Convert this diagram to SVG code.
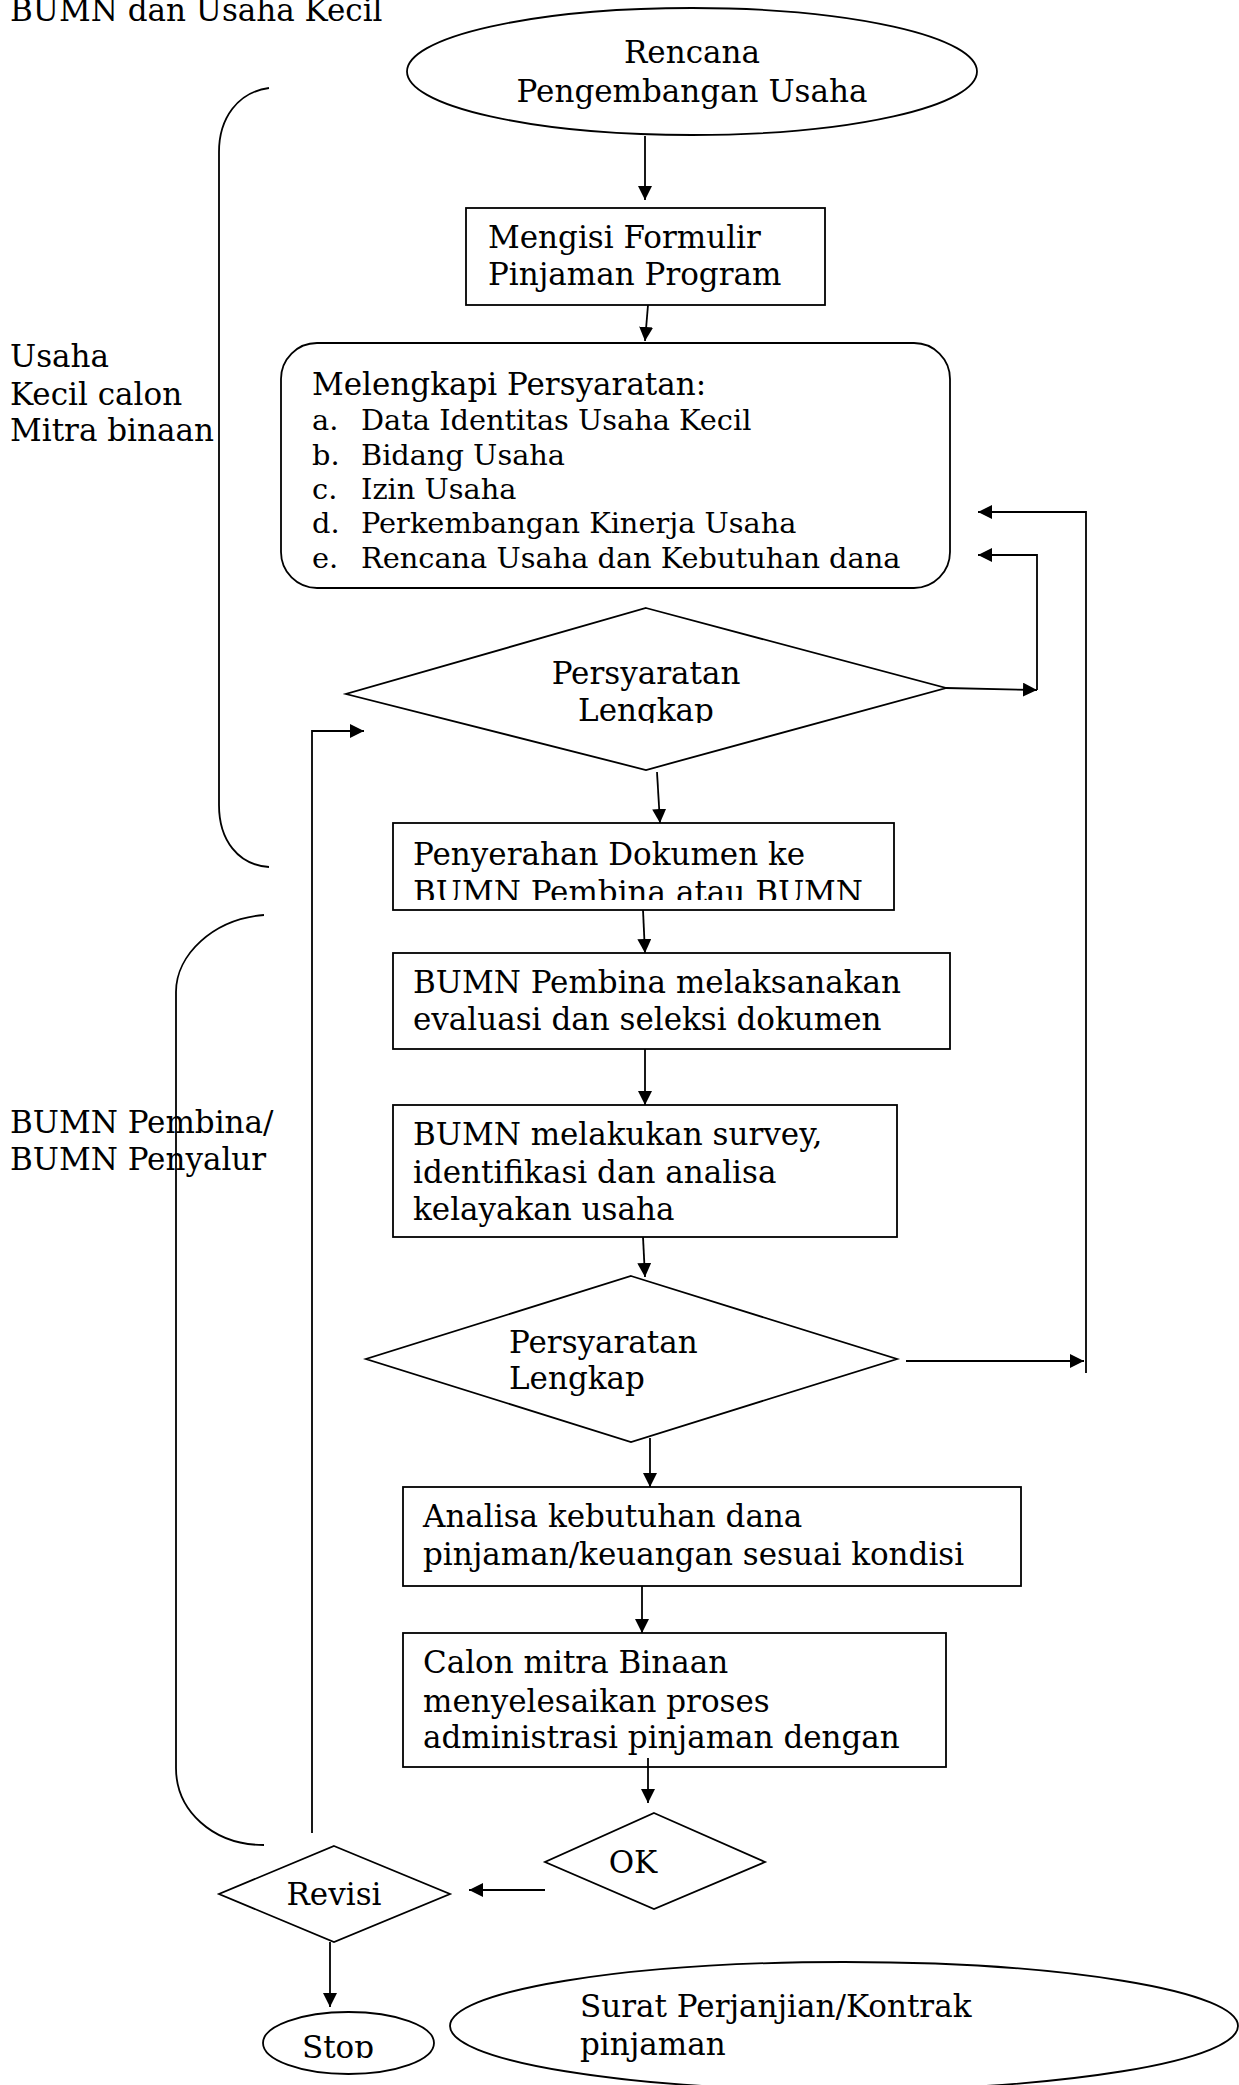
<svg xmlns="http://www.w3.org/2000/svg" width="1239" height="2085" viewBox="0 0 1239 2085">
<style>
  .s{fill:none;stroke:#000;stroke-width:1.8}
  .n{fill:#fff;stroke:#000;stroke-width:1.8}
  text{font-family:"DejaVu Serif","Liberation Serif",serif;font-size:31px;fill:#000}
  .li{font-size:28.8px}
</style>
<defs>
  <marker id="ah" markerUnits="userSpaceOnUse" markerWidth="15" markerHeight="15" refX="14" refY="7" orient="auto">
    <path d="M0,0 L14,7 L0,14 z" fill="#000"/>
  </marker>
  <clipPath id="c1"><rect x="0" y="0" width="1239" height="723"/></clipPath>
  <clipPath id="c2"><rect x="0" y="0" width="1239" height="900"/></clipPath>
  <clipPath id="c3"><rect x="0" y="0" width="1239" height="2058"/></clipPath>
</defs>
<rect width="1239" height="2085" fill="#fff"/>

<g id="title"><text x="10" y="21">BUMN dan Usaha Kecil</text></g>

<g id="lane1">
  <path class="s" d="M269,88 C238,92 219,118 219,152 L219,805 C219,840 238,865 269,867"/>
  <text x="10" y="367">Usaha</text>
  <text x="10" y="405">Kecil calon</text>
  <text x="10" y="441">Mitra binaan</text>
</g>
<g id="lane2">
  <path class="s" d="M264,915 C213,919 176,955 176,992 L176,1768 C176,1810 212,1845 264,1845"/>
  <text x="10" y="1133">BUMN Pembina/</text>
  <text x="10" y="1170">BUMN Penyalur</text>
</g>

<g id="connectors">
  <line class="s" x1="645" y1="136" x2="645" y2="200" marker-end="url(#ah)"/>
  <line class="s" x1="648" y1="305" x2="645" y2="341" marker-end="url(#ah)"/>
  <line class="s" x1="946" y1="688" x2="1037" y2="690" marker-end="url(#ah)"/>
  <polyline class="s" points="1037,690 1037,555 978,555" marker-end="url(#ah)"/>
  <line class="s" x1="657" y1="772" x2="660" y2="823" marker-end="url(#ah)"/>
  <line class="s" x1="643" y1="910" x2="645" y2="953" marker-end="url(#ah)"/>
  <line class="s" x1="645" y1="1046" x2="645" y2="1105" marker-end="url(#ah)"/>
  <line class="s" x1="643" y1="1237" x2="645" y2="1277" marker-end="url(#ah)"/>
  <line class="s" x1="906" y1="1361" x2="1084" y2="1361" marker-end="url(#ah)"/>
  <polyline class="s" points="1086,1373 1086,512 978,512" marker-end="url(#ah)"/>
  <line class="s" x1="650" y1="1438" x2="650" y2="1487" marker-end="url(#ah)"/>
  <line class="s" x1="642" y1="1586" x2="642" y2="1633" marker-end="url(#ah)"/>
  <line class="s" x1="648" y1="1758" x2="648" y2="1803" marker-end="url(#ah)"/>
  <line class="s" x1="545" y1="1890" x2="469" y2="1890" marker-end="url(#ah)"/>
  <line class="s" x1="330" y1="1942" x2="330" y2="2007" marker-end="url(#ah)"/>
  <polyline class="s" points="312,1833 312,731 364,731" marker-end="url(#ah)"/>
</g>

<g id="start">
  <ellipse class="n" cx="692" cy="71.5" rx="285" ry="63.5"/>
  <text x="692" y="63" text-anchor="middle">Rencana</text>
  <text x="692" y="102" text-anchor="middle">Pengembangan Usaha</text>
</g>

<g id="formulir">
  <rect class="n" x="466" y="208" width="359" height="97"/>
  <text x="488" y="248">Mengisi Formulir</text>
  <text x="488" y="285">Pinjaman Program</text>
</g>

<g id="persyaratan">
  <rect class="n" x="281" y="343" width="669" height="245" rx="36" ry="36"/>
  <text x="312" y="395">Melengkapi Persyaratan:</text>
  <text class="li" x="312" y="430">a.</text><text class="li" x="361" y="430">Data Identitas Usaha Kecil</text>
  <text class="li" x="312" y="465">b.</text><text class="li" x="361" y="465">Bidang Usaha</text>
  <text class="li" x="312" y="499">c.</text><text class="li" x="361" y="499">Izin Usaha</text>
  <text class="li" x="312" y="533">d.</text><text class="li" x="361" y="533">Perkembangan Kinerja Usaha</text>
  <text class="li" x="312" y="568">e.</text><text class="li" x="361" y="568">Rencana Usaha dan Kebutuhan dana</text>
</g>

<g id="decision1">
  <polygon class="n" points="646,608 946,688 646,770 346,694"/>
  <text x="646" y="684" text-anchor="middle">Persyaratan</text>
  <text x="646" y="721" text-anchor="middle" clip-path="url(#c1)">Lengkap</text>
</g>

<g id="penyerahan">
  <rect class="n" x="393" y="823" width="501" height="87"/>
  <text x="413" y="865">Penyerahan Dokumen ke</text>
  <text x="413" y="903" clip-path="url(#c2)">BUMN Pembina atau BUMN</text>
</g>

<g id="evaluasi">
  <rect class="n" x="393" y="953" width="557" height="96"/>
  <text x="413" y="993">BUMN Pembina melaksanakan</text>
  <text x="413" y="1030">evaluasi dan seleksi dokumen</text>
</g>

<g id="survey">
  <rect class="n" x="393" y="1105" width="504" height="132"/>
  <text x="413" y="1145">BUMN melakukan survey,</text>
  <text x="413" y="1183">identifikasi dan analisa</text>
  <text x="413" y="1220">kelayakan usaha</text>
</g>

<g id="decision2">
  <polygon class="n" points="631,1276 897,1359 631,1442 366,1359"/>
  <text x="509" y="1353">Persyaratan</text>
  <text x="509" y="1389">Lengkap</text>
</g>

<g id="analisa">
  <rect class="n" x="403" y="1487" width="618" height="99"/>
  <text x="423" y="1527">Analisa kebutuhan dana</text>
  <text x="423" y="1565">pinjaman/keuangan sesuai kondisi</text>
</g>

<g id="administrasi">
  <rect class="n" x="403" y="1633" width="543" height="134"/>
  <text x="423" y="1673">Calon mitra Binaan</text>
  <text x="423" y="1712">menyelesaikan proses</text>
  <text x="423" y="1748">administrasi pinjaman dengan</text>
</g>
<line class="s" x1="648" y1="1758" x2="648" y2="1767"/>

<g id="ok">
  <polygon class="n" points="654,1813 765,1862 654,1909 545,1862"/>
  <text x="633" y="1873" text-anchor="middle">OK</text>
</g>

<g id="revisi">
  <polygon class="n" points="334,1846 450,1894 334,1942 219,1894"/>
  <text x="334" y="1905" text-anchor="middle">Revisi</text>
</g>

<g id="stop">
  <ellipse class="n" cx="348.5" cy="2043" rx="85.5" ry="31"/>
  <text x="338" y="2058" text-anchor="middle" clip-path="url(#c3)">Stop</text>
</g>

<g id="surat">
  <ellipse class="n" cx="844" cy="2026" rx="394" ry="64"/>
  <text x="580" y="2017">Surat Perjanjian/Kontrak</text>
  <text x="580" y="2055">pinjaman</text>
</g>
</svg>
